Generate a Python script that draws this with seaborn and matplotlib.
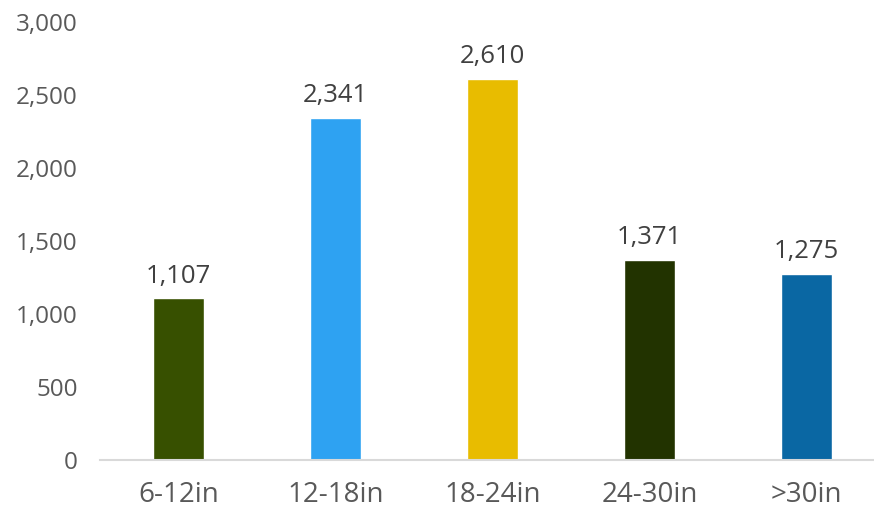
import matplotlib
matplotlib.use('Agg')
import matplotlib.pyplot as plt
import seaborn as sns
import pandas as pd

sizes = ['6-12in', '12-18in', '18-24in', '24-30in', '>30in']
counts = [1107, 2341, 2610, 1371, 1275]
bar_colors = ['#375000', '#2EA2F2', '#E8BC00', '#223300', '#0A67A3']

sns.set_theme(style='white')
plt.rcParams['font.family'] = ['Open Sans', 'DejaVu Sans']
text_color = '#595959'

df = pd.DataFrame({'size': sizes, 'count': counts})

fig = plt.figure(figsize=(8.74, 5.12), dpi=100)
ax = fig.add_axes([100 / 874, 52 / 512, 785 / 874, 438 / 512])
sns.barplot(data=df, x='size', y='count', hue='size', palette=bar_colors,
            width=0.32, legend=False, ax=ax, saturation=1)

for i, v in enumerate(counts):
    ax.annotate(f'{v:,}', (i, v), xytext=(0, 7), textcoords='offset points',
                ha='center', va='bottom', fontsize=18.5, color='#404040')

ax.set_ylim(0, 3000)
ax.set_xlim(-0.5, 4.5)
ax.set_yticks(range(0, 3001, 500))
ax.yaxis.set_major_formatter(plt.FuncFormatter(lambda x, _: f'{x:,.0f}'))
ax.tick_params(axis='y', labelsize=17.5, colors=text_color, length=0, pad=16)
ax.tick_params(axis='x', labelsize=20, colors=text_color, length=0, pad=15)
ax.set_xlabel('')
ax.set_ylabel('')
for s in ['top', 'right', 'left']:
    ax.spines[s].set_visible(False)
ax.spines['bottom'].set_color('#D9D9D9')
ax.spines['bottom'].set_linewidth(1.5)

fig.savefig('out.png', dpi=100, facecolor='white')
